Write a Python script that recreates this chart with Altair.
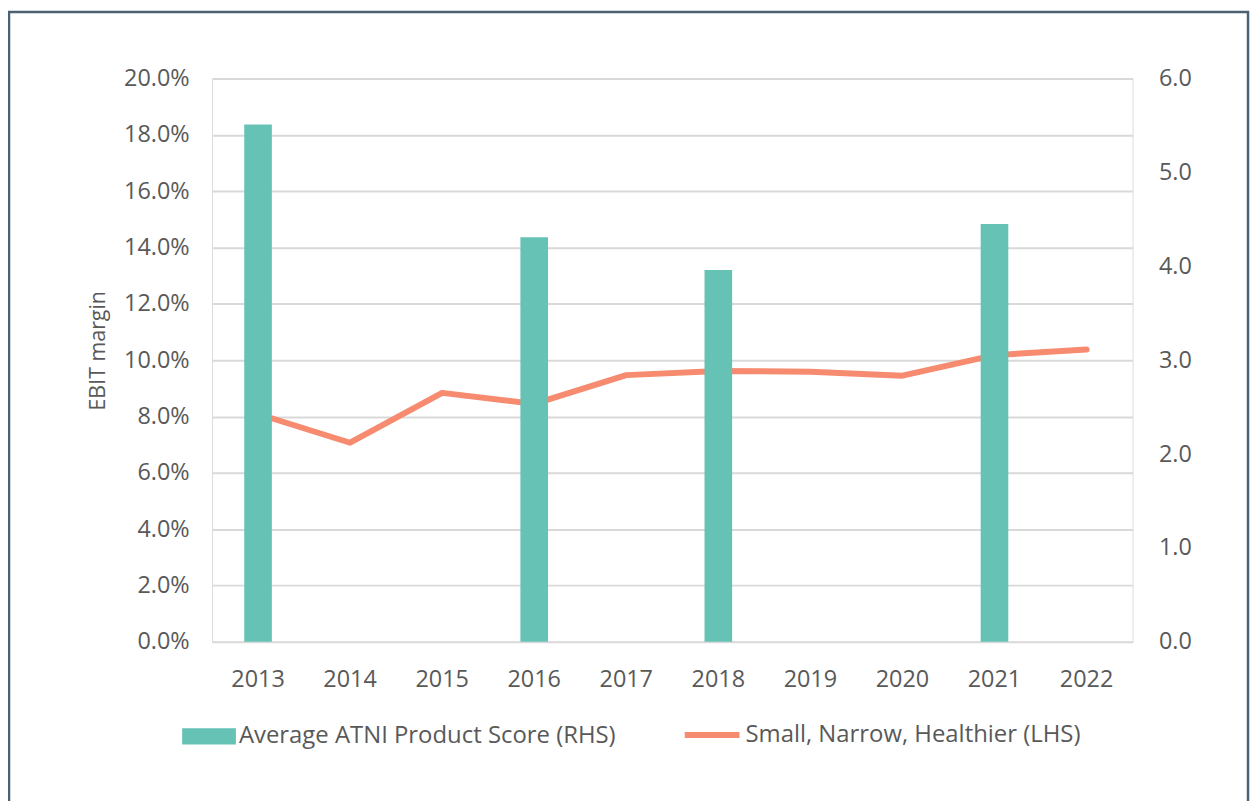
import altair as alt
import pandas as pd

years = ["2013", "2014", "2015", "2016", "2017", "2018", "2019", "2020", "2021", "2022"]
atni_score = [5.51, None, None, 4.31, None, 3.96, None, None, 4.45, None]
ebit_margin = [0.0809, 0.0707, 0.0884, 0.0845, 0.0947, 0.0962, 0.0959, 0.0945, 0.1018, 0.1038]
bar_name = "Average ATNI Product Score (RHS)"
line_name = "Small, Narrow, Healthier (LHS)"

bar_df = pd.DataFrame({"year": years, "score": atni_score, "series": bar_name}).dropna()
line_df = pd.DataFrame({"year": years, "ebit": ebit_margin, "series": line_name})

FONT = "Open Sans"
GREY = "#595959"
W, H = 925, 566
LS = 23.5
LEG = 24

x_enc = alt.X("year:O", sort=years, title=None,
              scale=alt.Scale(paddingInner=0.7, paddingOuter=0.35),
              axis=alt.Axis(labelAngle=0, labelPadding=26, ticks=False, domain=False,
                            labelFontSize=LS, labelColor=GREY, labelFont=FONT))

bars = alt.Chart(bar_df).mark_bar(color="#66C2B5").encode(
    x=x_enc,
    y=alt.Y("score:Q", title=None,
            scale=alt.Scale(domain=[0, 6], nice=False),
            axis=alt.Axis(orient="right", values=[0, 1, 2, 3, 4, 5, 6], format=".1f",
                          grid=False, ticks=False, domain=False, labelPadding=26,
                          labelFontSize=LS, labelColor=GREY, labelFont=FONT)),
    color=alt.Color("series:N", scale=alt.Scale(domain=[bar_name], range=["#66C2B5"]),
                    legend=alt.Legend(title=None, orient="none", legendX=-30, legendY=634,
                                      symbolType="M-1,-0.3H1V0.3H-1Z", symbolSize=2916,
                                      symbolStrokeWidth=0, labelOffset=3, labelLimit=0,
                                      labelFontSize=LEG, labelColor=GREY, labelFont=FONT)),
)

line = alt.Chart(line_df).mark_line(strokeWidth=6, strokeCap="round", strokeJoin="round").encode(
    x=x_enc,
    y=alt.Y("ebit:Q", title="EBIT margin",
            scale=alt.Scale(domain=[0, 0.2], nice=False),
            axis=alt.Axis(orient="left", values=[i * 0.02 for i in range(11)], format=".1%",
                          grid=True, gridColor="#d9d9d9", gridWidth=2,
                          ticks=False, domain=False, labelPadding=23,
                          labelFontSize=LS, labelColor=GREY, labelFont=FONT,
                          titleFontSize=21.5, titleColor=GREY, titleFont=FONT,
                          titleFontWeight="normal", titleX=-103, titleY=273)),
    stroke=alt.Stroke("series:N", scale=alt.Scale(domain=[line_name], range=["#F68B70"]),
                      legend=alt.Legend(title=None, orient="none", legendX=472, legendY=629,
                                        symbolType="stroke", symbolSize=3025,
                                        symbolStrokeWidth=6, labelOffset=3, labelLimit=0,
                                        labelFontSize=LEG, labelColor=GREY, labelFont=FONT)),
)

border = alt.Chart(pd.DataFrame({"a": [0]})).mark_rect(
    fill="transparent", stroke="#4A6274", strokeWidth=2.5
).encode(x=alt.value(-204), x2=alt.value(1041), y=alt.value(-67), y2=alt.value(H + 220))

chart = alt.layer(border, line, bars).resolve_scale(y="independent").properties(
    width=W, height=H,
    autosize=alt.AutoSizeParams(type="none"),
    padding={"left": 205, "top": 69, "right": 118, "bottom": 158},
).configure_view(stroke=None).configure(background="white")

chart.save("out.html", embed_options={"renderer": "svg", "actions": False})
